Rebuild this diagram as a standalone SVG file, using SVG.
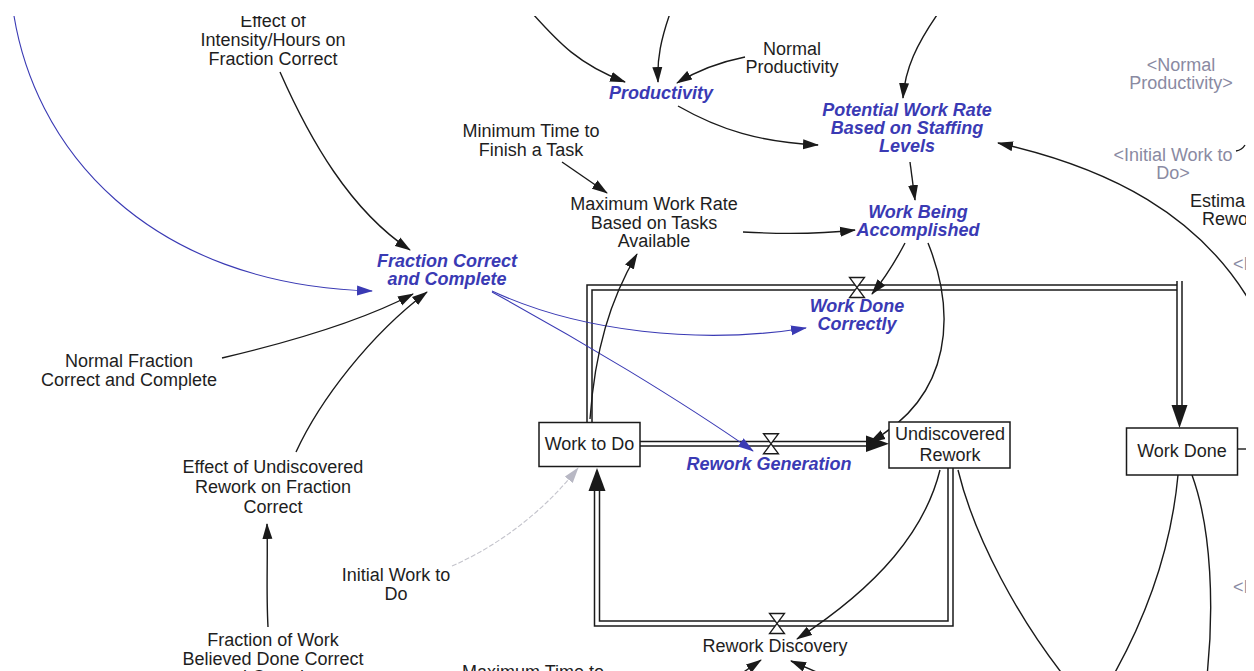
<svg xmlns="http://www.w3.org/2000/svg" width="1254" height="671" viewBox="0 0 1254 671">
  <style>
    text { font-family: "Liberation Sans", Arial, sans-serif; font-size: 18px; fill: #1e1e1e; text-anchor: middle; }
    text.aux { fill: #3a3ab4; font-weight: bold; font-style: italic; }
    text.shadow { fill: #8a8aa2; }
    text.left { text-anchor: start; }
    .link { fill: none; stroke: #1a1a1a; stroke-width: 1.4; marker-end: url(#arr); }
    .link-blue { fill: none; stroke: #3a3ab4; stroke-width: 1.1; marker-end: url(#arrBlue); }
    .link-grey { fill: none; stroke: #c4c4cc; stroke-width: 1.1; stroke-dasharray: 5 2; marker-end: url(#arrGrey); }
    .plain { fill: none; stroke: #1a1a1a; stroke-width: 1.4; }
    .pipe { fill: none; stroke: #1a1a1a; stroke-width: 1.5; }
    .head { fill: #1a1a1a; }
    .valve { fill: #ffffff; stroke: #1a1a1a; stroke-width: 1.3; }
    .stock { fill: #ffffff; stroke: #1a1a1a; stroke-width: 1.5; }
  </style>
  <defs>
    <marker id="arr" viewBox="0 0 16 11" refX="15" refY="5.5" markerWidth="16" markerHeight="11" markerUnits="userSpaceOnUse" orient="auto">
      <path d="M0,0.5 L16,5.5 L0,10.5 Z" fill="#1a1a1a"/>
    </marker>
    <marker id="arrBlue" viewBox="0 0 16 11" refX="15" refY="5.5" markerWidth="16" markerHeight="11" markerUnits="userSpaceOnUse" orient="auto">
      <path d="M0,0.5 L16,5.5 L0,10.5 Z" fill="#3a3ab4"/>
    </marker>
    <marker id="arrGrey" viewBox="0 0 16 11" refX="15" refY="5.5" markerWidth="16" markerHeight="11" markerUnits="userSpaceOnUse" orient="auto">
      <path d="M0,0.5 L16,5.5 L0,10.5 Z" fill="#b8b8c4"/>
    </marker>
    <path id="valveShape" d="M-7.5,-10 L7.5,-10 L-7.5,10 L7.5,10 Z"/>
    <clipPath id="frame">
      <rect x="0" y="16" width="1246" height="660"/>
    </clipPath>
  </defs>

  <rect x="0" y="0" width="1254" height="671" fill="#ffffff"/>

  <g clip-path="url(#frame)">
    <!-- material flows: pipes, arrowheads and valves -->
    <g id="flows">
      <!-- Work to Do -> Work Done (Work Done Correctly) -->
      <path class="pipe" d="M587,422 V285 H1177"/>
      <path class="pipe" d="M592,422 V290 H1177"/>
      <path class="pipe" d="M1177,281 V408"/>
      <path class="pipe" d="M1182,281 V408"/>
      <polygon class="head" points="1171.5,405 1187.5,405 1179.5,428"/>
      <use href="#valveShape" class="valve" x="857" y="287.5"/>

      <!-- Work to Do -> Undiscovered Rework (Rework Generation) -->
      <path class="pipe" d="M640,441.5 H868"/>
      <path class="pipe" d="M640,446 H868"/>
      <polygon class="head" points="866,435.5 866,452 889,443.75"/>
      <use href="#valveShape" class="valve" x="771" y="443.75"/>

      <!-- Undiscovered Rework -> Work to Do (Rework Discovery) -->
      <path class="pipe" d="M948,468 V621 H599.5 V490"/>
      <path class="pipe" d="M953,468 V626 H594.5 V490"/>
      <polygon class="head" points="588.5,491 605.5,491 597,468"/>
      <use href="#valveShape" class="valve" x="777" y="623.5"/>
    </g>

    <!-- information links -->
    <g id="connectors">
      <path class="link-blue" d="M12,2 C 30,150 150,285 372,291"/>
      <path class="link" d="M280,72 C 310,140 350,210 410,250"/>
      <path class="link" d="M222,358 C 290,342 360,322 413,294"/>
      <path class="link" d="M296,452 C 320,400 370,335 427,292"/>
      <path class="link" d="M268,627 C 266,590 268,560 267,524"/>
      <path class="link-blue" d="M492,291 C 580,332 700,345 806,328"/>
      <path class="link-blue" d="M492,292 C 580,340 680,400 753,451"/>
      <path class="link-grey" d="M452,566 C 500,545 545,510 578,468"/>
      <path class="link" d="M590,419 C 595,350 610,300 637,254"/>
      <path class="link" d="M562,162 L607,193"/>
      <path class="link" d="M743,232 C 780,234 820,234 855,230"/>
      <path class="link" d="M525,5 C 560,45 580,65 625,82"/>
      <path class="link" d="M673,5 C 660,40 657,60 658,82"/>
      <path class="link" d="M745,57 C 720,62 695,72 677,83"/>
      <path class="link" d="M678,106 C 720,130 760,142 818,145"/>
      <path class="link" d="M944,5 C 915,45 905,70 903,98"/>
      <path class="link" d="M910,162 L915,200"/>
      <path class="link" d="M905,243 C 895,262 885,278 872,294"/>
      <path class="link" d="M928,243 C 955,310 955,395 870,442"/>
      <path class="link" d="M1252,305 C 1200,215 1110,168 998,143"/>
      <path class="link" d="M940,470 C 925,530 880,585 797,639"/>
      <path class="plain" d="M958,470 C 975,540 1020,620 1064,676"/>
      <path class="plain" d="M1178,475 C 1172,540 1150,610 1113,676"/>
      <path class="plain" d="M1192,475 C 1212,530 1214,610 1207,676"/>
      <path class="link" d="M738,676 L761,660"/>
      <path class="link" d="M835,680 L791,661"/>
      <path class="plain" d="M1236,151 Q1242,150 1245,145"/>
      <path class="plain" d="M1238,449 L1246,449"/>
    </g>

    <!-- stocks -->
    <g id="work-to-do">
      <rect class="stock" x="539" y="422.5" width="101" height="44"/>
      <text x="589.5" y="450">Work to Do</text>
    </g>
    <g id="undiscovered-rework">
      <rect class="stock" x="889" y="422" width="121" height="46"/>
      <text x="950" y="440">Undiscovered</text>
      <text x="950" y="461">Rework</text>
    </g>
    <g id="work-done">
      <rect class="stock" x="1126.5" y="428" width="111" height="47"/>
      <text x="1182" y="457">Work Done</text>
    </g>

    <!-- rates -->
    <g id="work-done-correctly">
      <text class="aux" x="857" y="312">Work Done</text>
      <text class="aux" x="857" y="330">Correctly</text>
    </g>
    <g id="rework-generation">
      <text class="aux" x="769" y="470">Rework Generation</text>
    </g>
    <g id="rework-discovery">
      <text x="775" y="652">Rework Discovery</text>
    </g>

    <!-- auxiliaries -->
    <g id="effect-intensity">
      <text x="273" y="27">Effect of</text>
      <text x="273" y="46">Intensity/Hours on</text>
      <text x="273" y="65">Fraction Correct</text>
    </g>
    <g id="productivity">
      <text class="aux" x="661" y="99">Productivity</text>
    </g>
    <g id="normal-productivity">
      <text x="792" y="55">Normal</text>
      <text x="792" y="73">Productivity</text>
    </g>
    <g id="potential-work-rate">
      <text class="aux" x="907" y="116">Potential Work Rate</text>
      <text class="aux" x="907" y="134">Based on Staffing</text>
      <text class="aux" x="907" y="152">Levels</text>
    </g>
    <g id="normal-productivity-shadow">
      <text class="shadow" x="1181" y="71">&lt;Normal</text>
      <text class="shadow" x="1181" y="89">Productivity&gt;</text>
    </g>
    <g id="initial-work-shadow">
      <text class="shadow" x="1173" y="161">&lt;Initial Work to</text>
      <text class="shadow" x="1173" y="179">Do&gt;</text>
    </g>
    <g id="estimated-rework">
      <text class="left" x="1190" y="207">Estima</text>
      <text class="left" x="1202" y="225">Rewo</text>
    </g>
    <g id="shadow-upper">
      <text class="shadow left" x="1233" y="270">&lt;I</text>
    </g>
    <g id="shadow-lower">
      <text class="shadow left" x="1233" y="593">&lt;I</text>
    </g>
    <g id="minimum-time">
      <text x="531" y="137">Minimum Time to</text>
      <text x="531" y="156">Finish a Task</text>
    </g>
    <g id="maximum-work-rate">
      <text x="654" y="210">Maximum Work Rate</text>
      <text x="654" y="229">Based on Tasks</text>
      <text x="654" y="247">Available</text>
    </g>
    <g id="work-being-accomplished">
      <text class="aux" x="918" y="218">Work Being</text>
      <text class="aux" x="918" y="236">Accomplished</text>
    </g>
    <g id="fraction-correct">
      <text class="aux" x="447" y="267">Fraction Correct</text>
      <text class="aux" x="447" y="285">and Complete</text>
    </g>
    <g id="normal-fraction">
      <text x="129" y="367">Normal Fraction</text>
      <text x="129" y="386">Correct and Complete</text>
    </g>
    <g id="effect-undiscovered">
      <text x="273" y="473">Effect of Undiscovered</text>
      <text x="273" y="493">Rework on Fraction</text>
      <text x="273" y="513">Correct</text>
    </g>
    <g id="initial-work">
      <text x="396" y="581">Initial Work to</text>
      <text x="396" y="600">Do</text>
    </g>
    <g id="fraction-believed-done">
      <text x="273" y="646">Fraction of Work</text>
      <text x="273" y="665">Believed Done Correct</text>
      <text x="273" y="683">and Complete</text>
    </g>
    <g id="maximum-time">
      <text x="533" y="678">Maximum Time to</text>
    </g>
  </g>
</svg>
